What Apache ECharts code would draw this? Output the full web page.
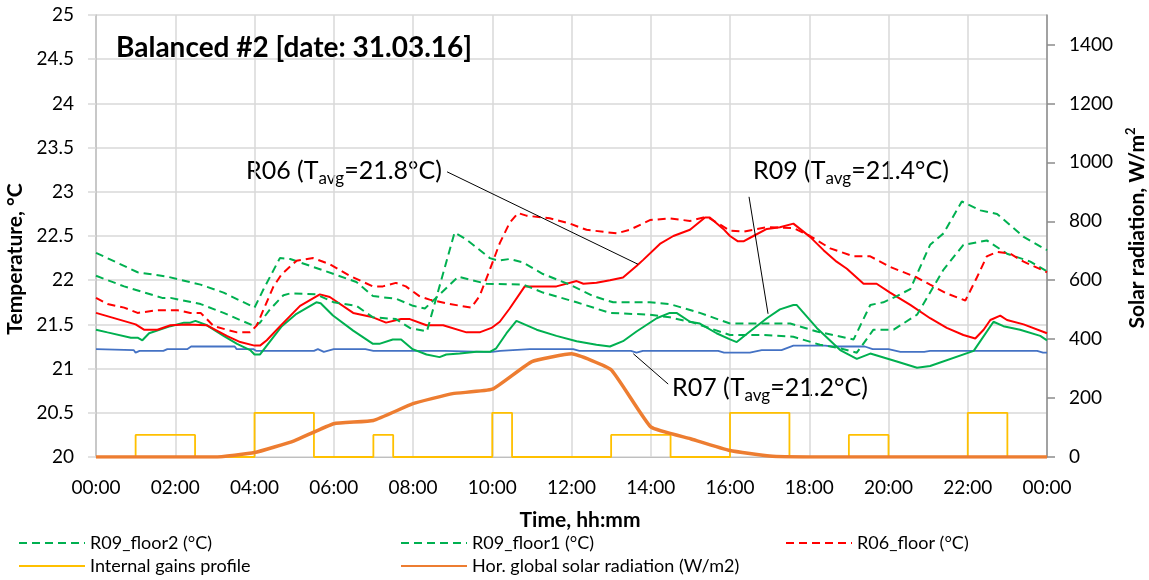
<!DOCTYPE html>
<html><head><meta charset="utf-8">
<script src="https://cdn.jsdelivr.net/npm/echarts@6/dist/echarts.min.js"></script>
<style>html,body{margin:0;padding:0;background:#fff;overflow:hidden}#c{width:1149px;height:580px}</style>
</head><body><div id="c"></div>
<script>
// time in hours (0..24)
const xTicks = [0,2,4,6,8,10,12,14,16,18,20,22,24];
const tempTicks = [20,20.5,21,21.5,22,22.5,23,23.5,24,24.5,25];
const solarTicks = [0,200,400,600,800,1000,1200,1400];

const r09Floor2 = [[0,22.31],[1.05,22.09],[1.8,22.04],[2.64,21.95],[3.22,21.86],[4.0,21.69],[4.23,21.9],[4.64,22.25],[4.9,22.24],[6.0,22.07],[6.57,21.98],[6.99,21.82],[7.57,21.79],[8.0,21.71],[8.3,21.68],[9.14,22.04],[9.85,21.96],[10.78,21.95],[11.28,21.86],[12.13,21.75],[12.97,21.63],[13.98,21.61],[14.48,21.58],[15.07,21.52],[16.0,21.38],[16.84,21.38],[17.6,21.36],[18.27,21.27],[18.78,21.23],[19.2,21.18],[19.62,21.44],[20.13,21.44],[20.72,21.61],[21.39,22.12],[21.89,22.40],[22.48,22.45],[22.99,22.30],[23.58,22.21],[24,22.10]];
const r09Floor1 = [[0,22.05],[0.71,21.93],[1.67,21.80],[1.88,21.80],[2.64,21.73],[3.22,21.63],[4.0,21.48],[4.14,21.52],[4.39,21.67],[4.73,21.83],[4.9,21.85],[5.56,21.84],[6.0,21.75],[6.57,21.71],[6.99,21.58],[7.57,21.56],[7.92,21.46],[8.35,21.42],[9.05,22.54],[9.35,22.46],[9.94,22.25],[10.15,22.22],[10.44,22.24],[10.78,22.20],[11.28,22.07],[11.96,21.95],[12.55,21.82],[13.05,21.75],[13.98,21.75],[14.48,21.73],[15.24,21.63],[16.0,21.51],[17.52,21.51],[18.19,21.42],[19.12,21.33],[19.54,21.72],[19.87,21.75],[20.21,21.82],[20.55,21.90],[21.05,22.40],[21.39,22.53],[21.85,22.89],[22.32,22.79],[22.74,22.75],[23.41,22.49],[24,22.34]];
const r06Floor = [[0,21.80],[0.29,21.73],[0.71,21.69],[1.05,21.63],[1.55,21.66],[2.05,21.66],[2.38,21.63],[2.64,21.63],[2.97,21.48],[3.3,21.44],[3.56,21.41],[3.89,21.41],[4.06,21.49],[4.23,21.67],[4.48,21.93],[4.69,22.07],[5.06,22.22],[5.48,22.25],[5.9,22.18],[6.4,22.05],[6.99,21.93],[7.24,21.93],[7.57,21.97],[7.82,21.93],[8.16,21.82],[8.42,21.78],[8.93,21.73],[9.47,21.69],[9.68,21.82],[9.94,22.12],[10.19,22.42],[10.44,22.65],[10.65,22.76],[10.86,22.73],[11.45,22.70],[11.96,22.64],[12.38,22.57],[13.14,22.53],[13.47,22.57],[13.98,22.68],[14.48,22.70],[14.99,22.67],[15.33,22.71],[15.49,22.70],[16.0,22.56],[16.34,22.55],[16.93,22.6],[17.6,22.59],[18.02,22.5],[18.53,22.36],[19.12,22.27],[19.54,22.27],[20.04,22.15],[20.72,22.03],[21.05,21.95],[21.47,21.85],[21.94,21.77],[22.23,22.03],[22.48,22.27],[22.74,22.32],[23.07,22.3],[23.41,22.21],[24,22.09]];
const r06 = [[0,21.63],[1.0,21.5],[1.21,21.44],[1.55,21.44],[1.88,21.49],[2.3,21.5],[2.8,21.49],[3.3,21.37],[3.64,21.30],[4.0,21.26],[4.14,21.26],[4.31,21.32],[4.69,21.5],[5.15,21.71],[5.65,21.84],[5.9,21.81],[6.49,21.63],[6.99,21.58],[7.32,21.52],[7.7,21.56],[7.92,21.56],[8.34,21.49],[8.76,21.49],[9.35,21.41],[9.68,21.41],[9.98,21.46],[10.19,21.53],[10.44,21.68],[10.82,21.93],[11.62,21.93],[12.13,21.99],[12.3,21.96],[12.63,21.97],[12.97,22.0],[13.3,22.03],[13.64,22.16],[13.81,22.23],[14.23,22.41],[14.57,22.5],[14.99,22.57],[15.37,22.71],[15.49,22.71],[15.83,22.58],[16.0,22.5],[16.2,22.44],[16.34,22.44],[16.59,22.5],[16.93,22.58],[17.26,22.6],[17.6,22.64],[18.02,22.49],[18.36,22.34],[18.69,22.21],[18.95,22.13],[19.37,21.96],[19.7,21.96],[20.04,21.86],[20.55,21.72],[21.05,21.57],[21.47,21.46],[21.89,21.38],[22.19,21.34],[22.4,21.44],[22.57,21.55],[22.82,21.6],[22.99,21.55],[23.41,21.5],[24,21.40]];
const r09 = [[0,21.44],[0.29,21.41],[0.88,21.35],[1.05,21.35],[1.17,21.32],[1.34,21.40],[1.88,21.48],[2.22,21.52],[2.38,21.52],[2.51,21.54],[2.8,21.49],[3.22,21.37],[3.56,21.28],[3.89,21.21],[4.0,21.16],[4.14,21.16],[4.31,21.26],[4.69,21.48],[5.06,21.62],[5.56,21.75],[5.67,21.74],[5.98,21.60],[6.49,21.43],[6.99,21.28],[7.15,21.28],[7.49,21.33],[7.7,21.33],[7.99,21.22],[8.34,21.16],[8.67,21.13],[8.84,21.16],[9.18,21.17],[9.6,21.19],[9.94,21.19],[10.1,21.23],[10.36,21.40],[10.61,21.54],[11.12,21.44],[11.62,21.37],[12.13,21.31],[12.63,21.27],[12.97,21.25],[13.3,21.31],[13.64,21.42],[14.15,21.57],[14.48,21.63],[14.65,21.63],[14.99,21.53],[15.24,21.51],[15.66,21.40],[16.0,21.33],[16.17,21.30],[16.5,21.42],[16.93,21.57],[17.26,21.67],[17.6,21.72],[17.68,21.72],[18.19,21.46],[18.78,21.21],[19.2,21.11],[19.54,21.17],[20.21,21.08],[20.72,21.01],[21.05,21.03],[22.15,21.2],[22.65,21.53],[22.9,21.48],[23.32,21.44],[23.83,21.37],[24,21.32]];
const r07 = [[0,21.22],[0.95,21.21],[1.0,21.18],[1.1,21.20],[1.7,21.20],[1.8,21.22],[2.3,21.22],[2.4,21.25],[3.5,21.25],[3.55,21.22],[3.97,21.22],[4.05,21.20],[5.5,21.20],[5.6,21.22],[5.75,21.19],[6.0,21.22],[6.8,21.22],[7.0,21.20],[8.8,21.20],[9.8,21.19],[10.0,21.19],[10.2,21.20],[10.95,21.22],[12.04,21.22],[12.2,21.20],[13.5,21.20],[13.64,21.18],[13.8,21.20],[15.7,21.20],[15.85,21.18],[16.5,21.18],[16.8,21.21],[17.3,21.21],[17.6,21.26],[18.4,21.26],[18.6,21.25],[19.4,21.25],[19.6,21.22],[20.0,21.22],[20.3,21.19],[20.9,21.19],[21.05,21.20],[23.75,21.20],[23.9,21.18],[24,21.18]];
const internalGains = [[0,20],[1,20.25],[2.5,20],[4,20.5],[5.5,20],[7,20.25],[7.5,20],[10,20.5],[10.5,20],[13,20.25],[14.5,20],[16,20.5],[17.5,20],[19,20.25],[20,20],[22,20.5],[23,20],[24,20]];
const solarRadiation = [[0,0],[1,0],[2,0],[3,0],[4,15],[5,55],[6,113],[7,124],[8,181],[9,215],[10,230],[11,324],[12,350],[13,296],[14,102],[15,62],[16,22],[17,3],[18,0],[19,0],[20,0],[21,0],[22,0],[23,0],[24,0]];

const FONT = "Lato, 'Noto Sans', sans-serif";
const GREEN = '#00B050', RED = '#FF0000', BLUE = '#4472C4', YELLOW = '#FFC000', ORANGE = '#ED7D31';

function hhmm(v){ const h = v % 24; return (h < 10 ? '0' : '') + h + ':00'; }

const chart = echarts.init(document.getElementById('c'), null, {renderer:'canvas', width:1149, height:580});
const dash = [8,5];
const lineBase = {type:'line', showSymbol:false, symbol:'none', animation:false, silent:true};

const legendText = {fontFamily: FONT, fontSize: 18, color: '#000'};
function leg(name, left, top){ return {data:[name], left, top, padding:0, itemWidth:66, itemHeight:12, itemStyle:{opacity:0}, textStyle:legendText, selectedMode:false}; }

const annot = (x, y, name, val) => ({
  type:'text', left:x, top:y, silent:true,
  style:{
    text:'{a|' + name + ' (T}{b|avg}{a|=' + val + '°C)}',
    rich:{
      a:{fontFamily:FONT, fontSize:25, lineHeight:34, verticalAlign:'middle', fill:'#000'},
      b:{fontFamily:FONT, fontSize:17, lineHeight:17, verticalAlign:'bottom', fill:'#000'}
    }
  }
});

const option = {
  backgroundColor:'#fff',
  animation:false,
  grid:{left:96, right:102, top:15, bottom:123, containLabel:false, outerBoundsMode:'none'},
  title:{text:'Balanced #2 [date: 31.03.16]', left:116, top:34, padding:0, textStyle:{fontFamily:FONT, fontSize:28, fontWeight:'bold', color:'#000'}},
  legend:[
    leg('R09_floor2 (°C)', 18, 534),
    leg('R09_floor1 (°C)', 400, 534),
    leg('R06_floor (°C)', 785, 534),
    leg('Internal gains profile', 18, 557),
    leg('Hor. global solar radiation (W/m2)', 400, 557)
  ],
  xAxis:{
    type:'value', min:0, max:24, interval:2,
    name:'Time, hh:mm', nameLocation:'middle', nameGap:53,
    nameTextStyle:{fontFamily:FONT, fontSize:21, fontWeight:'bold', color:'#000', padding:[0,0,0,17]},
    axisLine:{show:true, lineStyle:{color:'#BFBFBF', width:1}},
    axisTick:{show:false},
    axisLabel:{formatter:hhmm, fontFamily:FONT, fontSize:19, color:'#000', margin:21},
    splitLine:{show:true, lineStyle:{color:'#D9D9D9', width:1.5}}
  },
  yAxis:[
    {
      type:'value', min:20, max:25, interval:0.5,
      name:'Temperature, °C', nameLocation:'middle', nameGap:68, nameRotate:90,
      nameTextStyle:{fontFamily:FONT, fontSize:21, fontWeight:'bold', color:'#000', padding:[0,46,0,0]},
      axisLine:{show:true, lineStyle:{color:'#BFBFBF', width:1.5}},
      axisTick:{show:true, inside:false, length:8, lineStyle:{color:'#D9D9D9', width:1.5}},
      axisLabel:{fontFamily:FONT, fontSize:19, color:'#000', margin:22},
      splitLine:{show:true, lineStyle:{color:'#D9D9D9', width:1.5}}
    },
    {
      type:'value', min:0, max:1500, interval:100, position:'right',
      name:'{t|Solar radiation, W/m}{s|2}', nameLocation:'middle', nameGap:76, nameRotate:90,
      nameTextStyle:{padding:[0,0,0,16], rich:{
        t:{fontFamily:FONT, fontSize:21, fontWeight:'bold', color:'#000', verticalAlign:'bottom', lineHeight:24},
        s:{fontFamily:FONT, fontSize:13, fontWeight:'bold', color:'#000', verticalAlign:'top', lineHeight:24}
      }},
      axisLine:{show:true, lineStyle:{color:'#8C8C8C', width:1.5}},
      axisTick:{show:true, inside:false, length:8, customValues:solarTicks, lineStyle:{color:'#8C8C8C', width:1.5}},
      axisLabel:{fontFamily:FONT, fontSize:19, color:'#000', margin:22, customValues:solarTicks, formatter:(v)=>String(v)},
      splitLine:{show:false}
    }
  ],
  graphic:[
    annot(246, 158, 'R06', '21.8'),
    annot(753, 158, 'R09', '21.4'),
    annot(672, 375, 'R07', '21.2')
  ],
  series:[
    Object.assign({}, lineBase, {name:'R07', data:r07, lineStyle:{color:BLUE, width:1.8}, itemStyle:{color:BLUE},
      markLine:{silent:true, symbol:['none','none'], label:{show:false}, lineStyle:{color:'#000', width:1, type:'solid'},
        data:[[{coord:[13.56,21.168]},{coord:[14.44,20.825]}]]}}),
    Object.assign({}, lineBase, {name:'R09', data:r09, lineStyle:{color:GREEN, width:2}, itemStyle:{color:GREEN},
      markLine:{silent:true, symbol:['none','none'], label:{show:false}, lineStyle:{color:'#000', width:1, type:'solid'},
        data:[[{coord:[16.48,22.943]},{coord:[16.96,21.62]}]]}}),
    Object.assign({}, lineBase, {name:'R06', data:r06, lineStyle:{color:RED, width:2}, itemStyle:{color:RED},
      markLine:{silent:true, symbol:['none','none'], label:{show:false}, lineStyle:{color:'#000', width:1, type:'solid'},
        data:[[{coord:[8.86,23.226]},{coord:[13.68,22.18]}]]}}),
    Object.assign({}, lineBase, {name:'R09_floor2 (°C)', data:r09Floor2, lineStyle:{color:GREEN, width:2, type:dash}, itemStyle:{color:GREEN}}),
    Object.assign({}, lineBase, {name:'R09_floor1 (°C)', data:r09Floor1, lineStyle:{color:GREEN, width:2, type:dash}, itemStyle:{color:GREEN}}),
    Object.assign({}, lineBase, {name:'R06_floor (°C)', data:r06Floor, lineStyle:{color:RED, width:2, type:dash}, itemStyle:{color:RED}}),
    Object.assign({}, lineBase, {name:'Internal gains profile', data:internalGains, step:'end', lineStyle:{color:YELLOW, width:1.8}, itemStyle:{color:YELLOW}}),
    Object.assign({}, lineBase, {name:'Hor. global solar radiation (W/m2)', data:solarRadiation, yAxisIndex:1, smooth:0.12, lineStyle:{color:ORANGE, width:3.5}, itemStyle:{color:ORANGE}})
  ]
};
chart.setOption(option);
</script></body></html>
